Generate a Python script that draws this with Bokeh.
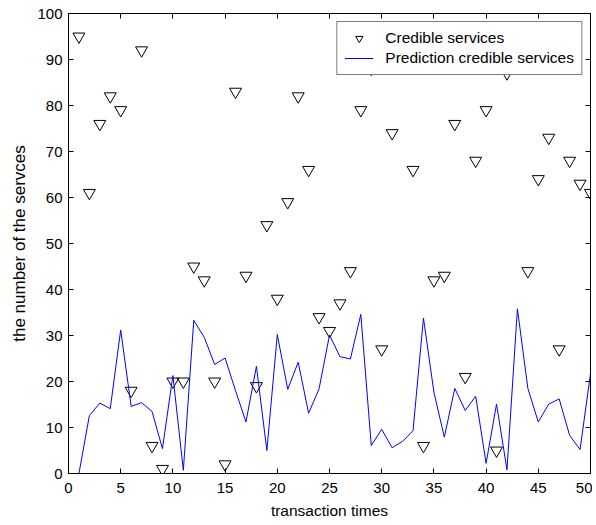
from bokeh.plotting import figure
from bokeh.models import (LinearAxis, Range1d, SingleIntervalTicker, Legend,
                          LegendItem, ColumnDataSource, CustomJSTickFormatter)
from bokeh.embed import file_html
from bokeh.resources import INLINE

# transaction index
transactions = list(range(1, 51))

# "Credible services" (triangle markers)
credible = [95, 61, 76, 82, 79, 18, 92, 6, 1, 20,
            20, 45, 42, 20, 2, 83, 43, 19, 54, 38,
            59, 82, 66, 34, 31, 37, 44, 79, 88, 27,
            74, 95, 66, 6, 42, 43, 76, 21, 68, 79,
            5, 87, 93, 44, 64, 73, 27, 68, 63, 61]

# "Prediction credible services" (blue line)
predicted = [0, 12.6, 15.3, 14.1, 31.2, 14.6, 15.4, 13.5, 5.4, 21.3,
             0.7, 33.3, 29.6, 23.7, 25.1, 18, 11.2, 23.3, 5, 30.2,
             18.3, 24.2, 13.1, 18.4, 30.1, 25.4, 24.9, 34.6, 6.1, 9.6,
             5.6, 7, 9.3, 33.8, 17.7, 7.9, 18.5, 13.7, 16.8, 2.2,
             15.1, 0.8, 35.8, 18.5, 11.2, 15.1, 16.2, 8.3, 5.2, 21.7]

series_labels = ["Credible services", "Prediction credible services"]
x_label = "transaction times"
y_label = "the number of the servces"

FONT = "Liberation Sans"
TICK_FS = "15px"
LABEL_FS = "15.5px"

src = ColumnDataSource(dict(x=transactions, c=credible, p=predicted))

p = figure(width=592, height=523,
           x_range=Range1d(0, 50), y_range=Range1d(0, 100),
           output_backend="svg", toolbar_location=None,
           min_border_left=68, min_border_right=2,
           min_border_top=13, min_border_bottom=50,
           x_axis_label=x_label, y_axis_label=y_label)

p.xgrid.visible = False
p.ygrid.visible = False
p.outline_line_color = "black"
p.background_fill_color = "white"
p.border_fill_color = "white"

tri = p.scatter("x", "c", source=src, marker="inverted_triangle", size=12,
                fill_color=None, line_color="black", line_width=1)
ln = p.line("x", "p", source=src, line_color="#0000ff", line_width=1)

def style_axis(ax):
    ax.axis_line_color = "black"
    ax.major_tick_line_color = "black"
    ax.major_tick_in = 5
    ax.major_tick_out = 0
    ax.minor_tick_line_color = None
    ax.major_label_text_color = "black"
    ax.major_label_text_font = FONT
    ax.major_label_text_font_size = TICK_FS
    ax.axis_label_text_color = "black"
    ax.axis_label_text_font = FONT
    ax.axis_label_text_font_size = LABEL_FS
    ax.axis_label_text_font_style = "normal"

for ax in p.xaxis:
    ax.ticker = SingleIntervalTicker(interval=5, num_minor_ticks=0)
    style_axis(ax)
    ax.major_label_standoff = 9
    ax.axis_label_standoff = 6
for ax in p.yaxis:
    ax.ticker = SingleIntervalTicker(interval=10, num_minor_ticks=0)
    style_axis(ax)
    ax.axis_label_text_font_size = "17px"
    ax.major_label_standoff = 6
    ax.axis_label_standoff = 5

blank = CustomJSTickFormatter(code="return '';")
top = LinearAxis(ticker=SingleIntervalTicker(interval=5, num_minor_ticks=0),
                 formatter=blank)
style_axis(top)
top.major_label_text_font_size = "1px"
top.major_label_standoff = 0
right = LinearAxis(ticker=SingleIntervalTicker(interval=10, num_minor_ticks=0),
                   formatter=blank)
style_axis(right)
right.major_label_text_font_size = "1px"
right.major_label_standoff = 0
p.add_layout(top, "above")
p.add_layout(right, "right")

legend = Legend(items=[LegendItem(label=series_labels[0], renderers=[tri]),
                       LegendItem(label=series_labels[1], renderers=[ln])],
                location="top_right", margin=8, padding=7, spacing=2,
                glyph_width=29, glyph_height=18, label_height=18,
                label_standoff=12,
                label_text_font=FONT, label_text_font_size=LABEL_FS,
                label_text_color="black",
                border_line_color="black", border_line_width=1,
                background_fill_color="white", background_fill_alpha=1)
p.add_layout(legend, "center")

open("out.html", "w").write(file_html(p, INLINE))
